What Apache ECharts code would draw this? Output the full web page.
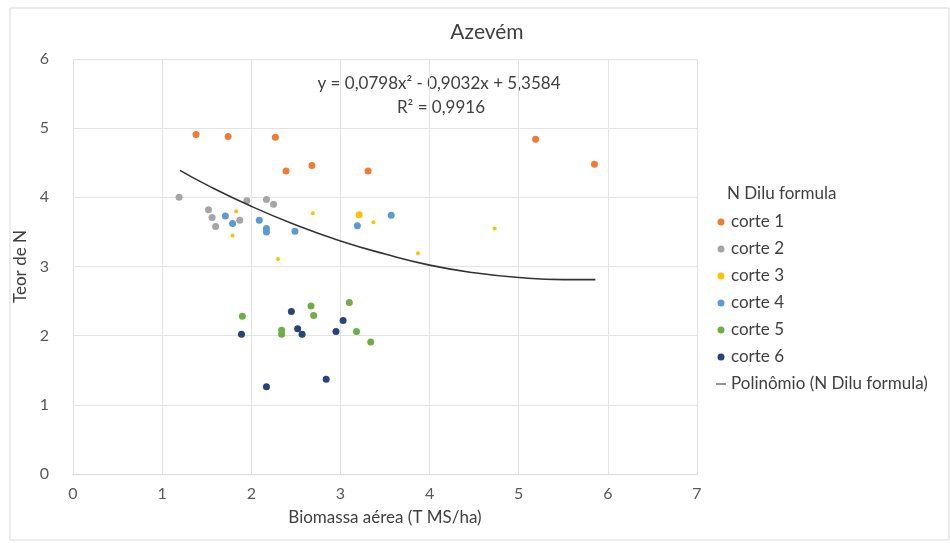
<!DOCTYPE html>
<html>
<head>
<meta charset="utf-8">
<script src="https://cdn.jsdelivr.net/npm/echarts@6/dist/echarts.min.js"></script>
<style>
html,body{margin:0;padding:0;background:#fff;}
#chart{width:950px;height:543px;}
</style>
</head>
<body>
<div id="chart"></div>
<script>
// ---- data ----
const seriesNames = ['corte 1','corte 2','corte 3','corte 4','corte 5','corte 6'];
const corte1 = [[1.38,4.91],[1.74,4.88],[2.27,4.87],[2.39,4.38],[2.68,4.46],[3.31,4.38],[5.19,4.84],[5.85,4.48]];
const corte2 = [[1.19,4.00],[1.52,3.82],[1.56,3.71],[1.60,3.58],[1.87,3.67],[1.95,3.95],[2.17,3.97],[2.25,3.90]];
const corte3 = [[1.79,3.45],[1.83,3.80],[2.30,3.11],[2.69,3.77],[3.21,3.75],[3.37,3.64],[3.87,3.19],[4.73,3.55]];
const corte4 = [[1.71,3.73],[1.79,3.62],[2.09,3.67],[2.17,3.55],[2.17,3.50],[2.49,3.51],[3.19,3.59],[3.57,3.74]];
const corte5 = [[1.90,2.28],[2.34,2.08],[2.34,2.02],[2.67,2.43],[2.70,2.29],[3.10,2.48],[3.18,2.06],[3.34,1.91]];
const corte6 = [[1.89,2.02],[2.17,1.26],[2.45,2.35],[2.52,2.10],[2.57,2.02],[2.84,1.37],[2.95,2.06],[3.03,2.22]];
// trend curve
const trendX = [1.2, 1.5, 2.0, 2.5, 3.0, 3.5, 4.0, 4.5, 5.0, 5.5, 5.86];
const trendY = [4.39, 4.18, 3.87, 3.60, 3.37, 3.18, 3.02, 2.91, 2.84, 2.81, 2.81];
const xTicks = [0,1,2,3,4,5,6,7];
const yTicks = [0,1,2,3,4,5,6];
const titleText = 'Azevém';
const eqLine1 = 'y = 0,0798x² - 0,9032x + 5,3584';
const eqLine2 = 'R² = 0,9916';
const legendTitle = 'N Dilu formula';
const trendName = 'Polinômio (N Dilu formula)';
const xName = 'Biomassa aérea (T MS/ha)';
const yName = 'Teor de N';

const colors = ['#ED7D31','#A5A5A5','#FFC000','#5B9BD5','#70AD47','#264478'];
const allData = [corte1, corte2, corte3, corte4, corte5, corte6];
const FONT = 'Lato, "Open Sans", sans-serif';
const TXT = '#404040';

const chart = echarts.init(document.getElementById('chart'), null, {renderer:'canvas'});

const scatterSeries = allData.map((d, i) => ({
  name: seriesNames[i],
  type: 'scatter',
  data: d.map((p, j) => {
    if (i === 2 && j === 4) return {value: p, symbolSize: 7};
    return p;
  }),
  symbolSize: i === 2 ? 4 : 7,
  itemStyle: {color: colors[i], opacity: 1},
  emphasis: {disabled: true},
  z: 3
}));

const option = {
  animation: false,
  backgroundColor: '#fff',
  textStyle: {fontFamily: FONT},
  grid: {left: 73, right: 253, top: 59, bottom: 69},
  xAxis: {
    type: 'value', min: xTicks[0], max: xTicks[xTicks.length-1], interval: 1,
    name: xName, nameLocation: 'middle', nameGap: 35,
    nameTextStyle: {color: TXT, fontSize: 17, fontFamily: FONT},
    axisLine: {show: true, lineStyle: {color: '#d9d9d9'}},
    axisTick: {show: false},
    axisLabel: {color: '#595959', fontSize: 16, margin: 12, fontFamily: FONT},
    splitLine: {show: true, lineStyle: {color: '#e3e3e3'}}
  },
  yAxis: {
    type: 'value', min: yTicks[0], max: yTicks[yTicks.length-1], interval: 1,
    name: yName, nameLocation: 'middle', nameGap: 42,
    nameTextStyle: {color: TXT, fontSize: 17, fontFamily: FONT},
    axisLine: {show: false},
    axisTick: {show: false},
    axisLabel: {color: '#595959', fontSize: 16, margin: 24, fontFamily: FONT},
    splitLine: {show: true, lineStyle: {color: '#e3e3e3'}}
  },
  legend: {
    orient: 'vertical',
    left: 711, top: 207,
    itemWidth: 10, itemHeight: 7, itemGap: 7,
    textStyle: {color: TXT, fontSize: 17, lineHeight: 20, fontFamily: FONT},
    selectedMode: false,
    data: seriesNames.map((n, i) => ({name: n, icon: 'circle'})).concat([{name: trendName, icon: 'path://M0,4 L12,4 L12,5.2 L0,5.2 Z'}])
  },
  graphic: [
    {type: 'rect', shape: {x: 10, y: 8, width: 939, height: 532}, style: {fill: 'none', stroke: '#d9d9d9', lineWidth: 1}, silent: true, z: -1},
    {type: 'text', x: 487, y: 32, style: {text: titleText, fill: TXT, fontSize: 21, fontFamily: FONT, textAlign: 'center', textVerticalAlign: 'middle'}},
    {type: 'text', x: 439, y: 84, style: {text: eqLine1, fill: TXT, fontSize: 17, fontFamily: FONT, textAlign: 'center', textVerticalAlign: 'middle', backgroundColor: '#fff'}},
    {type: 'text', x: 441, y: 108, style: {text: eqLine2, fill: TXT, fontSize: 17, fontFamily: FONT, textAlign: 'center', textVerticalAlign: 'middle', backgroundColor: '#fff'}},
    {type: 'text', x: 727, y: 194, style: {text: legendTitle, fill: TXT, fontSize: 17, fontFamily: FONT, textAlign: 'left', textVerticalAlign: 'middle'}}
  ],
  series: scatterSeries.concat([{
    name: trendName,
    type: 'line',
    data: trendX.map((x, i) => [x, trendY[i]]),
    smooth: true,
    showSymbol: false,
    symbol: 'none',
    lineStyle: {color: '#333333', width: 1.6},
    itemStyle: {color: '#333333'},
    emphasis: {disabled: true},
    z: 4
  }])
};
chart.setOption(option);
</script>
</body>
</html>
